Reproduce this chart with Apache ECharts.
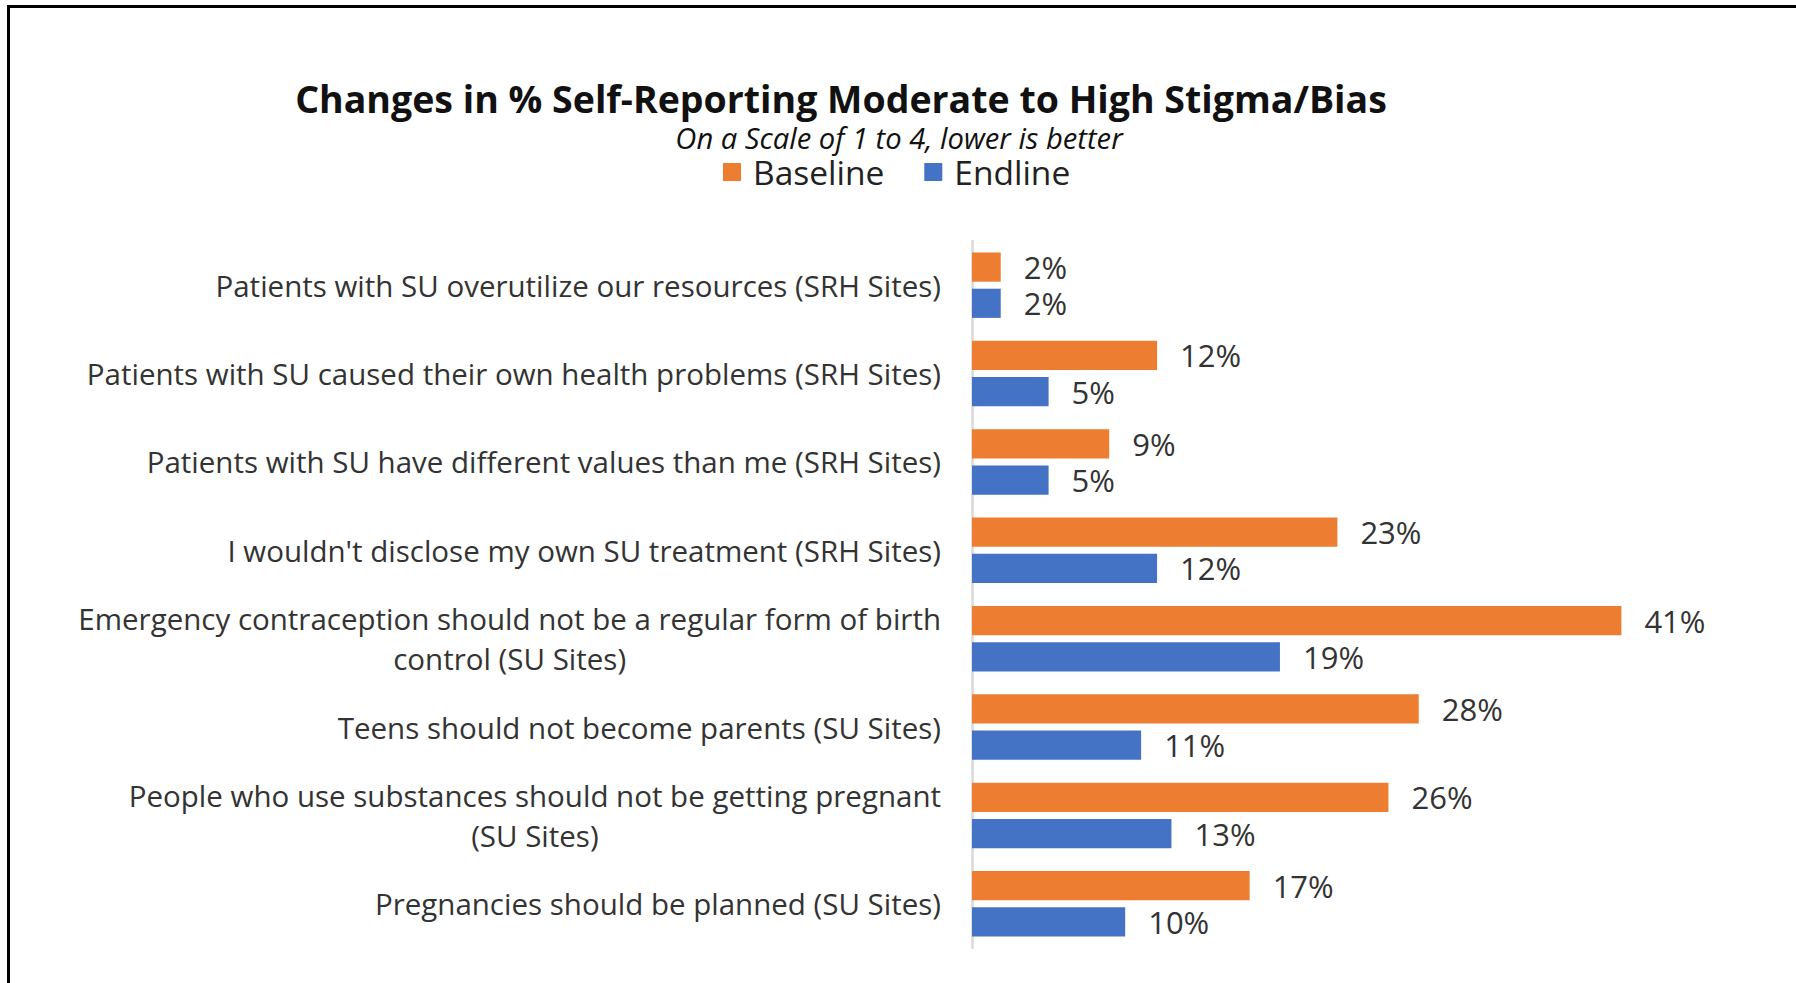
<!DOCTYPE html>
<html>
<head>
<meta charset="utf-8">
<script src="https://cdn.jsdelivr.net/npm/echarts@6/dist/echarts.min.js"></script>
<style>
html,body{margin:0;padding:0;background:#fff;}
#chart{width:1796px;height:983px;}
</style>
</head>
<body>
<div id="chart"></div>
<script>
const categories = [
  "Patients with SU overutilize our resources (SRH Sites)",
  "Patients with SU caused their own health problems (SRH Sites)",
  "Patients with SU have different values than me (SRH Sites)",
  "I wouldn't disclose my own SU treatment (SRH Sites)",
  "Emergency contraception should not be a regular form of birth\ncontrol (SU Sites)",
  "Teens should not become parents (SU Sites)",
  "People who use substances should not be getting pregnant\n(SU Sites)",
  "Pregnancies should be planned (SU Sites)"
];
const baseline = [1.8, 11.6, 8.6, 22.9, 40.7, 28.0, 26.1, 17.4];
const endline  = [1.8, 4.8, 4.8, 11.6, 19.3, 10.6, 12.5, 9.6];
const seriesNames = ["Baseline", "Endline"];
const titleText = "Changes in % Self-Reporting Moderate to High Stigma/Bias";
const subtitleText = "On a Scale of 1 to 4, lower is better";

const FONT = '"Open Sans", "Noto Sans", sans-serif';
const chart = echarts.init(document.getElementById('chart'), null, {renderer: 'svg'});
chart.setOption({
  backgroundColor: '#fff',
  animation: false,
  graphic: [
    {type: 'rect', shape: {x: 8.5, y: 6.5, width: 3000, height: 3000},
     style: {fill: 'none', stroke: '#000', lineWidth: 3}},
    {type: 'text', x: 841, y: 98,
     style: {text: titleText, fontFamily: FONT, fontWeight: 'bold', fontSize: 37.5, lineHeight: 36,
             fill: '#111', textAlign: 'center', textVerticalAlign: 'middle'}},
    {type: 'text', x: 899, y: 138,
     style: {text: subtitleText, fontFamily: FONT, fontStyle: 'italic', fontSize: 29.2, lineHeight: 28,
             fill: '#111', textAlign: 'center', textVerticalAlign: 'middle'}}
  ],
  legend: {
    data: seriesNames,
    left: 718, top: 150,
    icon: 'rect', itemWidth: 18, itemHeight: 18, itemGap: 40,
    textStyle: {fontFamily: FONT, fontSize: 33.5, lineHeight: 30, color: '#222', padding: [0, 0, 0, 7]}
  },
  grid: {left: 972, top: 241, bottom: 35, right: 106, containLabel: false},
  xAxis: {type: 'value', min: 0, max: 45, show: false},
  yAxis: {
    type: 'category', data: categories, inverse: true,
    axisLine: {lineStyle: {color: '#D9D9D9', width: 2.5}},
    axisTick: {show: false},
    axisLabel: {
      margin: 31, fontFamily: FONT, fontSize: 29.5, color: '#333', lineHeight: 40,
      formatter: v => v.split('\n').map(s => '{c|' + s + '}').join('\n'),
      rich: {c: {align: 'center', fontFamily: FONT, fontSize: 29.5, color: '#333', lineHeight: 40}}
    }
  },
  series: [
    {name: seriesNames[0], type: 'bar', data: baseline, itemStyle: {color: '#ED7D31'},
     barCategoryGap: '26%', barGap: '24%',
     label: {show: true, position: 'right', distance: 23, fontFamily: FONT, fontSize: 31, lineHeight: 32, color: '#333',
             formatter: p => Math.round(p.value) + '%'}},
    {name: seriesNames[1], type: 'bar', data: endline, itemStyle: {color: '#4472C4'},
     barCategoryGap: '26%', barGap: '24%',
     label: {show: true, position: 'right', distance: 23, fontFamily: FONT, fontSize: 31, lineHeight: 32, color: '#333',
             formatter: p => Math.round(p.value) + '%'}}
  ]
});
</script>
</body>
</html>
